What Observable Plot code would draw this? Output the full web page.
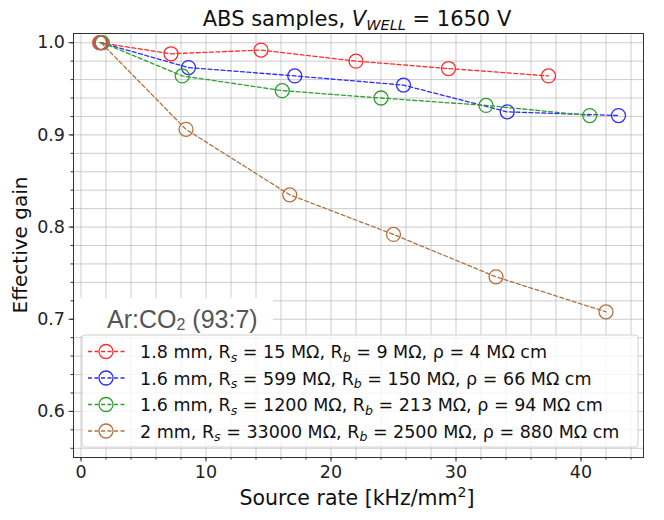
<!DOCTYPE html>
<html><head><meta charset="utf-8">
<script src="https://cdn.jsdelivr.net/npm/d3@7"></script>
<script src="https://cdn.jsdelivr.net/npm/@observablehq/plot@0.6"></script>
<style>body{margin:0;background:#fff;}</style>
</head><body><div id="chart"></div>
<script>
// ---- data ----
const colors = ["#ff2b2b", "#2b2bff", "#2ca02c", "#b5713f"];
const thickness = ["1.8 mm", "1.6 mm", "1.6 mm", "2 mm"];
const Rs = ["15", "599", "1200", "33000"];
const Rb = ["9", "150", "213", "2500"];
const rho = ["4", "66", "94", "880"];

const redX = [1.5, 7.2, 14.4, 22.0, 29.4, 37.4];
const redY = [1.0, 0.988, 0.992, 0.980, 0.972, 0.964];
const blueX = [1.6, 8.6, 17.1, 25.8, 34.1, 43.0];
const blueY = [1.0, 0.973, 0.964, 0.954, 0.925, 0.921];
const greenX = [1.7, 8.1, 16.1, 24.0, 32.4, 40.7];
const greenY = [1.0, 0.964, 0.948, 0.940, 0.932, 0.921];
const brownX = [1.6, 8.4, 16.7, 25.0, 33.2, 42.0];
const brownY = [1.0, 0.906, 0.835, 0.792, 0.746, 0.708];

const xMajor = [0, 10, 20, 30, 40];
const yMajor = [0.6, 0.7, 0.8, 0.9, 1.0];
const xMinor = d3.range(0, 46, 2);
const yMinor = d3.range(56, 101, 2).map(v => v / 100);

const allX = [redX, blueX, greenX, brownX];
const allY = [redY, blueY, greenY, brownY];
const series = allX.map((xs, i) => xs.map((x, j) => ({x, y: allY[i][j], s: i})));

const marks = [
  Plot.gridX(xMinor, {stroke: "#b8b8b8", strokeOpacity: 0.7, strokeWidth: 1}),
  Plot.gridY(yMinor, {stroke: "#b8b8b8", strokeOpacity: 0.7, strokeWidth: 1}),
  Plot.axisX(xMinor, {tickSize: 2.5, text: null, stroke: "#333", label: null}),
  Plot.axisY(yMinor, {tickSize: 2.5, text: null, stroke: "#333", label: null}),
  Plot.axisX(xMajor, {tickSize: 4.5, tickPadding: 4, stroke: "#333", fill: "#222", tickFormat: d => String(d), label: null}),
  Plot.axisY(yMajor, {tickSize: 4.5, tickPadding: 4, stroke: "#333", fill: "#222", tickFormat: d3.format(".1f"), label: null}),
];
series.forEach((data, i) => {
  marks.push(Plot.line(data, {x: "x", y: "y", stroke: colors[i], strokeWidth: 1.3, strokeDasharray: "4,2.5"}));
  marks.push(Plot.dot(data, {x: "x", y: "y", r: 7, stroke: colors[i], fill: "none", strokeWidth: 1.3}));
});
marks.push(Plot.frame({stroke: "#333", strokeWidth: 1}));

const svgEl = Plot.plot({
  width: 664, height: 520,
  marginLeft: 73, marginRight: 21, marginTop: 33, marginBottom: 63,
  x: {domain: [-0.6, 45], label: null},
  y: {domain: [0.55, 1.01], label: null},
  style: {fontFamily: "DejaVu Sans", fontSize: "17.5px", background: "#fff"},
  marks
});
document.getElementById("chart").appendChild(svgEl);

const svg = d3.select(svgEl);
const F = "DejaVu Sans";

// title
const t = svg.append("text").attr("x", 357).attr("y", 26).attr("text-anchor", "middle")
  .attr("font-family", F).attr("font-size", 21).attr("fill", "#111");
t.append("tspan").text("ABS samples, ");
t.append("tspan").attr("font-style", "italic").text("V");
t.append("tspan").attr("font-style", "italic").attr("font-size", 14.5).attr("dy", 4).text("WELL");
t.append("tspan").attr("dy", -4).text(" = 1650 V");

// axis labels
const xl = svg.append("text").attr("x", 357).attr("y", 505).attr("text-anchor", "middle")
  .attr("font-family", F).attr("font-size", 20.5).attr("fill", "#111");
xl.append("tspan").text("Source rate [kHz/mm");
xl.append("tspan").attr("font-size", 14).attr("dy", -8).text("2");
xl.append("tspan").attr("dy", 8).text("]");
svg.append("text").attr("transform", "translate(27,245) rotate(-90)").attr("text-anchor", "middle")
  .attr("font-family", F).attr("font-size", 20).attr("fill", "#111").text("Effective gain");

// gas annotation
svg.append("rect").attr("x", 75).attr("y", 298).attr("width", 198).attr("height", 38).attr("fill", "#fff");
const g = svg.append("text").attr("x", 107).attr("y", 328).attr("text-anchor", "start")
  .attr("font-family", "Liberation Sans, Arial, sans-serif")
  .attr("font-size", 25).attr("fill", "#555");
g.append("tspan").text("Ar:CO");
g.append("tspan").attr("font-size", 16).attr("dy", 2).text("2");
g.append("tspan").attr("dy", -2).text(" (93:7)");

// legend
const lg = svg.append("g").attr("text-anchor", "start");
lg.append("rect").attr("x", 82).attr("y", 335).attr("width", 556).attr("height", 112).attr("rx", 3)
  .attr("fill", "#fff").attr("fill-opacity", 0.8).attr("stroke", "#d0d0d0").attr("stroke-width", 1);
colors.forEach((c, i) => {
  const yy = 351.5 + i * 26.5;
  lg.append("line").attr("x1", 88).attr("x2", 125).attr("y1", yy).attr("y2", yy)
    .attr("stroke", c).attr("stroke-width", 1.3).attr("stroke-dasharray", "4,2.5");
  lg.append("circle").attr("cx", 106).attr("cy", yy).attr("r", 7).attr("fill", "none")
    .attr("stroke", c).attr("stroke-width", 1.3);
  const tx = lg.append("text").attr("x", 140).attr("y", yy + 6.5).attr("text-anchor", "start")
    .attr("font-family", F).attr("font-size", 17.5).attr("fill", "#111");
  tx.append("tspan").text(thickness[i] + ", R");
  tx.append("tspan").attr("font-style", "italic").attr("font-size", 12.5).attr("dy", 3.5).text("s");
  tx.append("tspan").attr("dy", -3.5).text(" = " + Rs[i] + " MΩ, R");
  tx.append("tspan").attr("font-style", "italic").attr("font-size", 12.5).attr("dy", 3.5).text("b");
  tx.append("tspan").attr("dy", -3.5).text(" = " + Rb[i] + " MΩ, ρ = " + rho[i] + " MΩ cm");
});
</script>
</body></html>
